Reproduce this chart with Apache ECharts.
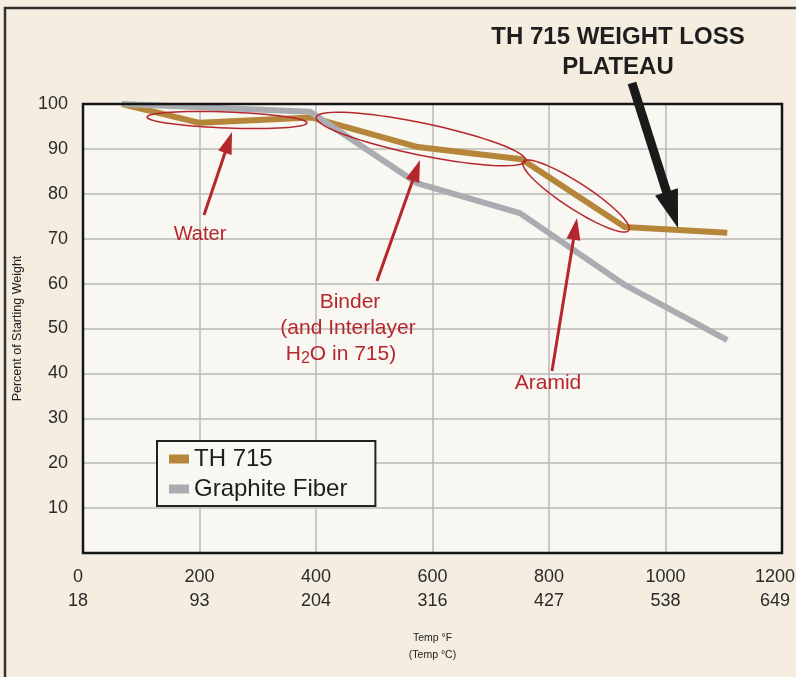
<!DOCTYPE html>
<html>
<head>
<meta charset="utf-8">
<script src="https://cdn.jsdelivr.net/npm/echarts@6/dist/echarts.min.js"></script>
<style>
  html, body { margin: 0; padding: 0; background: #f5eee0; }
  #chart { width: 796px; height: 677px; }
</style>
</head>
<body>
<div id="chart"></div>
<script>
// temperature ticks, °F with matching °C
const fTicks = [0, 200, 400, 600, 800, 1000, 1200]
const cTicks = ['18', '93', '204', '316', '427', '538', '649']

// TH 715 curve
const thTemp = [67, 200, 392, 575, 753, 930, 1106]
const thWeight = [100, 95.8, 97, 90.4, 87.7, 72.6, 71.3]

// Graphite fiber curve
const gfTemp = [67, 390, 573, 750, 930, 1106]
const gfWeight = [100, 98.3, 82.4, 75.7, 59.7, 47.4]

const red = '#b5272d'
const sans = "'Liberation Sans', Arial, sans-serif"

// ellipse outline as polygon points
function ellipse(cx, cy, rx, ry, deg) {
  const a = deg * Math.PI / 180
  const pts = []
  for (let i = 0; i < 72; i++) {
    const t = i / 72 * Math.PI * 2
    const x = rx * Math.cos(t)
    const y = ry * Math.sin(t)
    pts.push([cx + x * Math.cos(a) - y * Math.sin(a), cy + x * Math.sin(a) + y * Math.cos(a)])
  }
  return {
    type: 'polygon',
    shape: { points: pts },
    style: { fill: 'none', stroke: red, lineWidth: 1.5 },
    z: 100
  }
}

// straight arrow with triangular head
function arrow(x1, y1, x2, y2, w, headLen, headW, color) {
  const dx = x2 - x1
  const dy = y2 - y1
  const len = Math.sqrt(dx * dx + dy * dy)
  const ux = dx / len
  const uy = dy / len
  const bx = x2 - ux * headLen
  const by = y2 - uy * headLen
  return [
    {
      type: 'line',
      shape: { x1: x1, y1: y1, x2: bx + ux * 2, y2: by + uy * 2 },
      style: { stroke: color, lineWidth: w },
      z: 100
    },
    {
      type: 'polygon',
      shape: {
        points: [
          [x2, y2],
          [bx - uy * headW / 2, by + ux * headW / 2],
          [bx + uy * headW / 2, by - ux * headW / 2]
        ]
      },
      style: { fill: color },
      z: 100
    }
  ]
}

function label(text, x, y, opts) {
  return {
    type: 'text',
    x: x,
    y: y,
    style: Object.assign({
      text: text,
      fill: red,
      font: '21px ' + sans,
      textAlign: 'center',
      textVerticalAlign: 'middle'
    }, opts || {}),
    z: 100
  }
}

const chart = echarts.init(document.getElementById('chart'))

const graphics = [
  {
    type: 'rect',
    shape: { x: 5, y: 8, width: 900, height: 900 },
    style: { fill: 'none', stroke: '#333', lineWidth: 2.5 },
    z: -10
  },
  // plot frame drawn over the grid lines
  {
    type: 'rect',
    shape: { x: 83, y: 104, width: 699, height: 449 },
    style: { fill: 'none', stroke: '#161616', lineWidth: 2.5 },
    z: 50
  },
  ellipse(227, 120, 80, 8, 2.1),
  ellipse(421, 139, 107, 16, 11.7),
  ellipse(576, 196, 63, 13, 33),
  ...arrow(204, 215, 232, 132, 3, 22, 14, red),
  ...arrow(377, 281, 420, 160, 3, 22, 14, red),
  ...arrow(552, 371, 577, 218, 3, 22, 14, red),
  ...arrow(632, 83, 678, 228, 9, 38, 24, '#1a1a1a'),
  label('Water', 200, 234, { font: '20px ' + sans }),
  label('Binder', 350, 302),
  label('(and Interlayer', 348, 328),
  {
    type: 'text',
    x: 341,
    y: 354,
    style: {
      text: '{a|H}{s|2}{a|O in 715)}',
      fill: red,
      textAlign: 'center',
      textVerticalAlign: 'middle',
      rich: {
        a: { font: '21px ' + sans, fill: red },
        s: { font: '16px ' + sans, fill: red, padding: [9, 0, 0, 0] }
      }
    },
    z: 100
  },
  label('Aramid', 548, 383),
  label('TH 715 WEIGHT LOSS', 618, 37, { fill: '#1e1e1e', font: 'bold 24px ' + sans }),
  label('PLATEAU', 618, 67, { fill: '#1e1e1e', font: 'bold 24px ' + sans })
]

chart.setOption({
  backgroundColor: '#f5eee0',
  animation: false,
  grid: {
    left: 83,
    top: 104,
    width: 699,
    height: 449,
    outerBoundsMode: 'none',
    containLabel: false,
    show: true,
    backgroundColor: '#f9f7f1',
    borderWidth: 0
  },
  legend: {
    left: 157,
    top: 441,
    orient: 'vertical',
    icon: 'rect',
    itemWidth: 20,
    itemHeight: 9,
    itemGap: 6,
    padding: [6, 28, 5, 12],
    backgroundColor: '#f9f7f1',
    borderColor: '#222',
    borderWidth: 2,
    textStyle: { fontSize: 24, fontFamily: sans, color: '#1e1e1e' },
    data: ['TH 715', 'Graphite Fiber']
  },
  xAxis: {
    type: 'value',
    min: 0,
    max: 1200,
    interval: 200,
    name: 'Temp °F\n(Temp °C)',
    nameLocation: 'middle',
    nameGap: 77,
    nameTextStyle: { fontSize: 10.5, fontFamily: sans, color: '#222', lineHeight: 17 },
    axisLine: { show: false },
    axisTick: { show: false },
    splitLine: { lineStyle: { color: '#b9b9b9', width: 1.5 } },
    axisLabel: {
      margin: 12,
      fontSize: 18,
      lineHeight: 24,
      fontFamily: sans,
      color: '#2a2a2a',
      rich: {
        first: { fontSize: 18, fontFamily: sans, color: '#2a2a2a', lineHeight: 24, padding: [0, 10, 0, 0] },
        last: { fontSize: 18, fontFamily: sans, color: '#2a2a2a', lineHeight: 24, padding: [0, 14, 0, 0] }
      },
      formatter: function (v) {
        const i = fTicks.indexOf(v)
        if (i === 0) return '{first|' + v + '}\n{first|' + cTicks[i] + '}'
        if (i === fTicks.length - 1) return '{last|' + v + '}\n{last|' + cTicks[i] + '}'
        return v + '\n' + cTicks[i]
      }
    }
  },
  yAxis: {
    type: 'value',
    min: 0,
    max: 100,
    interval: 10,
    name: 'Percent of Starting Weight',
    nameLocation: 'middle',
    nameGap: 59,
    nameRotate: 90,
    nameTextStyle: { fontSize: 12.5, fontFamily: sans, color: '#222' },
    axisLine: { show: false },
    axisTick: { show: false },
    splitLine: { lineStyle: { color: '#b9b9b9', width: 1.5 } },
    axisLabel: {
      margin: 15,
      fontSize: 18,
      fontFamily: sans,
      color: '#2a2a2a',
      formatter: function (v) { return v === 0 ? '' : v }
    }
  },
  series: [
    {
      name: 'TH 715',
      type: 'line',
      symbol: 'none',
      color: '#b5863a',
      lineStyle: { width: 6, color: '#b5863a' },
      data: thTemp.map((t, i) => [t, thWeight[i]]),
      z: 3
    },
    {
      name: 'Graphite Fiber',
      type: 'line',
      symbol: 'none',
      color: '#a9adb2',
      lineStyle: { width: 6, color: '#a9adb2' },
      data: gfTemp.map((t, i) => [t, gfWeight[i]]),
      z: 4
    }
  ],
  graphic: graphics
})
</script>
</body>
</html>
